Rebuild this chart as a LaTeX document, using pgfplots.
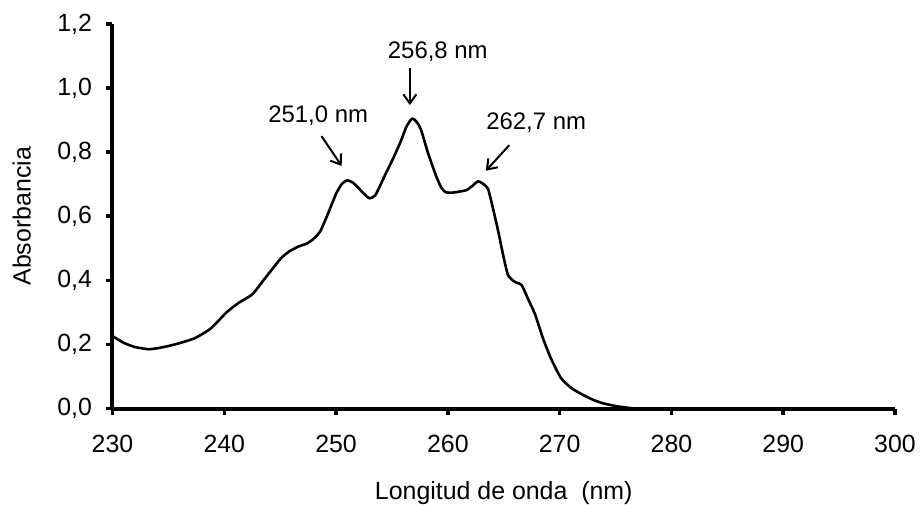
\documentclass[border=0pt]{standalone}
\usepackage{fontspec}
\setmainfont{Liberation Sans}
\usepackage{pgfplots}
\pgfplotsset{compat=1.18}
\usetikzlibrary{arrows.meta}

% espectro UV
\pgfplotstableread{
x y
230.0 0.226
231.0 0.205
232.0 0.192
233.2 0.185
234.0 0.188
235.0 0.195
236.0 0.204
237.4 0.220
238.8 0.250
240.2 0.300
241.3 0.330
242.5 0.356
243.5 0.400
244.4 0.440
245.1 0.470
245.8 0.490
246.6 0.505
247.4 0.515
248.0 0.530
248.6 0.554
249.3 0.610
250.0 0.670
250.5 0.700
251.0 0.712
251.5 0.705
251.9 0.692
252.5 0.670
253.0 0.656
253.5 0.665
254.0 0.700
254.4 0.730
255.1 0.780
255.8 0.835
256.3 0.880
256.8 0.905
257.2 0.895
257.6 0.870
258.2 0.800
258.9 0.730
259.4 0.690
259.8 0.675
260.5 0.674
261.2 0.678
261.7 0.682
262.2 0.695
262.7 0.709
263.2 0.700
263.6 0.685
264.0 0.630
264.5 0.554
265.0 0.470
265.4 0.415
266.0 0.395
266.6 0.385
267.2 0.340
267.8 0.294
268.5 0.220
269.2 0.158
270.1 0.096
271.0 0.065
272.0 0.044
273.0 0.027
273.8 0.017
274.8 0.009
275.7 0.004
276.5 0.001
278.0 0.000
300.0 0.000
}\espectro

\begin{document}
\begin{tikzpicture}
\path[use as bounding box] (-112.5bp,-96.5bp) rectangle (807.5bp,408.5bp);
\begin{axis}[
  at={(0,0)}, anchor=south west,
  scale only axis, width=782.5bp, height=384.5bp,
  xmin=230, xmax=300, ymin=0, ymax=1.2,
  axis x line*=bottom, axis y line*=left,
  axis line style={line width=4bp},
  xtick={230,240,...,300},
  ytick={0,0.2,0.4,0.6,0.8,1.0,1.2},
  tick align=outside, major tick length=6bp,
  tick style={line width=3.5bp, black},
  /pgf/number format/assume math mode=true,
  ticklabel style={font=\fontsize{25}{29}\selectfont},
  xticklabel style={yshift=-17bp},
  yticklabel style={xshift=-11bp, /pgf/number format/.cd, fixed, fixed zerofill, precision=1, use comma},
  xlabel={Longitud de onda\ \ (nm)},
  ylabel={Absorbancia},
  label style={font=\fontsize{25}{29}\selectfont},
  xlabel style={at={(axis description cs:0.5,-0.22)}, anchor=center},
  ylabel style={at={(axis description cs:-0.116,0.5)}, anchor=center},
  clip=false,
]
\addplot[black, line width=2.6bp, line join=round, smooth, tension=0.35] table {\espectro};

\node[font=\fontsize{24}{28}\selectfont] at (axis cs:248.4,0.914) {251,0 nm};
\node[font=\fontsize{24}{28}\selectfont] at (axis cs:259.1,1.114) {256,8 nm};
\node[font=\fontsize{24}{28}\selectfont] at (axis cs:267.9,0.892) {262,7 nm};
\draw[line width=2bp, -{Straight Barb[length=9bp,width=13bp]}] (axis cs:248.7,0.850) -- (axis cs:250.5,0.757);
\draw[line width=2bp, -{Straight Barb[length=9bp,width=13bp]}] (axis cs:256.6,1.062) -- (axis cs:256.6,0.947);
\draw[line width=2bp, -{Straight Barb[length=9bp,width=13bp]}] (axis cs:265.5,0.822) -- (axis cs:263.4,0.742);
\end{axis}
\end{tikzpicture}
\end{document}
